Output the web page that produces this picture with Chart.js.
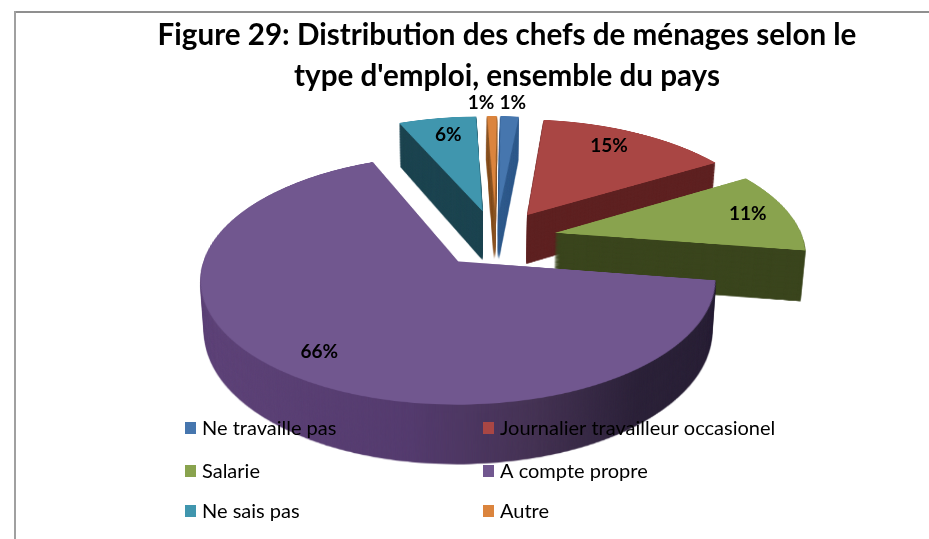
<!DOCTYPE html>
<html lang="fr">
<head>
<meta charset="utf-8">
<title>Figure 29</title>
<style>
html,body{margin:0;padding:0;background:#fff;width:929px;height:539px;overflow:hidden}
#wrap{position:relative;width:929px;height:539px}
.l{position:absolute;background:#8f8f8f}
canvas{position:absolute;left:0;top:0}
</style>
<script src="https://cdn.jsdelivr.net/npm/chart.js@4/dist/chart.umd.min.js"></script>
</head>
<body>
<div id="wrap">
<div class="l" style="left:14px;top:11px;width:915px;height:2px"></div>
<div class="l" style="left:14px;top:11px;width:2px;height:528px;background:#a0a0a0"></div>
<canvas id="c" width="929" height="539"></canvas>
</div>
<script>
const titleLines = ["Figure 29: Distribution des chefs de ménages selon le", "type d'emploi, ensemble du pays"];
const categories = ["Ne travaille pas", "Journalier travailleur occasionel", "Salarie", "A compte propre", "Ne sais pas", "Autre"];
const values = [1.4, 14.6, 11, 66.3, 5.95, 0.75];
const percentLabels = ["1%", "15%", "11%", "66%", "6%", "1%"];
const topColors = ["#4676ae", "#a94644", "#89a34e", "#71578f", "#4096ae", "#db843d"];
const wallColors = ["#2f5a8c", "#5e2121", "#3a451d", null, "#1c4450", "#8a5424"];
const labelRadius = [1.16, 0.80, 0.83, 0.83, 0.80, 1.16];
const labelShiftDeg = [0.4, -3, -1, -2, 1, -2.5];
const drawOrder = [4, 5, 0, 1, 2, 3];

// camera model of the 3D pie
const R = 255, explode = 62.8, centerX = 31.8, centerZ = -50.8;
const vx = 465, y0 = 262, H = 833, D = 1735;
const depth = 51.5, depthGrow = 0.0011, taper = 0.015;
const W = 929, Ht = 539, FW = 800, FH = 1100, FO = 550;

function project(X, Z) {
  const s = D / (D - Z);
  return [vx + X * s, y0 + H * (s - 1)];
}
function mk(w, h) { const c = document.createElement('canvas'); c.width = w; c.height = h; return c; }

const pie3d = {
  id: 'pie3d',
  beforeDatasetsDraw(chart) {
    const ctx = chart.ctx;
    const arcs = chart.getDatasetMeta(0).data;
    drawOrder.forEach(i => {
      const el = arcs[i];
      const mid = (el.startAngle + el.endAngle) / 2;
      // flat (ground plane) rendering of the library's arc
      const flat = mk(FW, FH), f = flat.getContext('2d');
      f.translate(FW / 2 + centerX + Math.cos(mid) * explode - el.x, FO + centerZ + Math.sin(mid) * explode - el.y);
      el.draw(f);
      // projective warp, row by row
      const top = mk(W, Ht), t = top.getContext('2d');
      for (let y = 90; y < 480; y++) {
        const s0 = 1 + (y - y0) / H, s1 = 1 + (y + 1 - y0) / H;
        const z0 = D * (1 - 1 / s0) + FO, z1 = D * (1 - 1 / s1) + FO;
        t.drawImage(flat, 0, z0, FW, z1 - z0, vx - FW / 2 * s0, y, FW * s0, 1);
      }
      // side walls
      const wall = mk(W, Ht), w = wall.getContext('2d');
      w.drawImage(top, 0, 0);
      w.globalCompositeOperation = 'source-atop';
      if (wallColors[i]) {
        w.fillStyle = wallColors[i];
      } else {
        const g = w.createLinearGradient(200, 0, 716, 0);
        g.addColorStop(0, '#5f4479');
        g.addColorStop(0.4, '#553c6f');
        g.addColorStop(0.65, '#453354');
        g.addColorStop(0.85, '#2c2239');
        g.addColorStop(1, '#2a2137');
        w.fillStyle = g;
      }
      w.fillRect(0, 0, W, Ht);
      ctx.save();
      const N = 60;
      for (let k = N; k >= 1; k--) {
        const p = k / N;
        const sx = 1 - taper * p, sy = 1 + depth * depthGrow * p;
        ctx.setTransform(sx, 0, 0, sy, vx * (1 - sx), depth * p * (1 - y0 * depthGrow));
        ctx.drawImage(wall, 0, 0);
      }
      ctx.restore();
      ctx.drawImage(top, 0, 0);
    });
    return false;
  },
  afterDraw(chart) {
    const ctx = chart.ctx;
    const arcs = chart.getDatasetMeta(0).data;
    ctx.save();
    ctx.fillStyle = '#000';
    ctx.textAlign = 'center';
    ctx.textBaseline = 'middle';
    ctx.font = 'bold 19px Lato';
    arcs.forEach((el, i) => {
      const mid = (el.startAngle + el.endAngle) / 2;
      const a = mid + labelShiftDeg[i] * Math.PI / 180;
      const cx = centerX + Math.cos(mid) * explode, cz = centerZ + Math.sin(mid) * explode;
      const p = project(cx + Math.cos(a) * R * labelRadius[i], cz + Math.sin(a) * R * labelRadius[i]);
      ctx.fillText(percentLabels[i], p[0], p[1]);
    });
    // legend
    ctx.textAlign = 'left';
    ctx.font = '20px Lato';
    const colX = [185, 483], rowY = [428, 471, 511];
    categories.forEach((name, i) => {
      const x = colX[i % 2], y = rowY[Math.floor(i / 2)];
      ctx.fillStyle = topColors[i];
      ctx.fillRect(x, y - 6, 11, 12);
      ctx.fillStyle = '#000';
      ctx.fillText(name, x + 17, y + 1);
    });
    ctx.restore();
  }
};

new Chart(document.getElementById('c'), {
  type: 'pie',
  data: {
    labels: categories,
    datasets: [{ data: values, backgroundColor: topColors, borderWidth: 0, radius: R, offset: 0 }]
  },
  options: {
    responsive: false,
    animation: false,
    rotation: 1.5,
    layout: { padding: { left: 85 } },
    plugins: {
      legend: { display: false },
      tooltip: { enabled: false },
      title: {
        display: true,
        text: titleLines,
        color: '#000',
        font: { family: 'Lato', size: 29.6, weight: 'bold', lineHeight: 1.38 },
        padding: { top: 15.5, bottom: 0 }
      }
    }
  },
  plugins: [pie3d]
});
</script>
</body>
</html>
